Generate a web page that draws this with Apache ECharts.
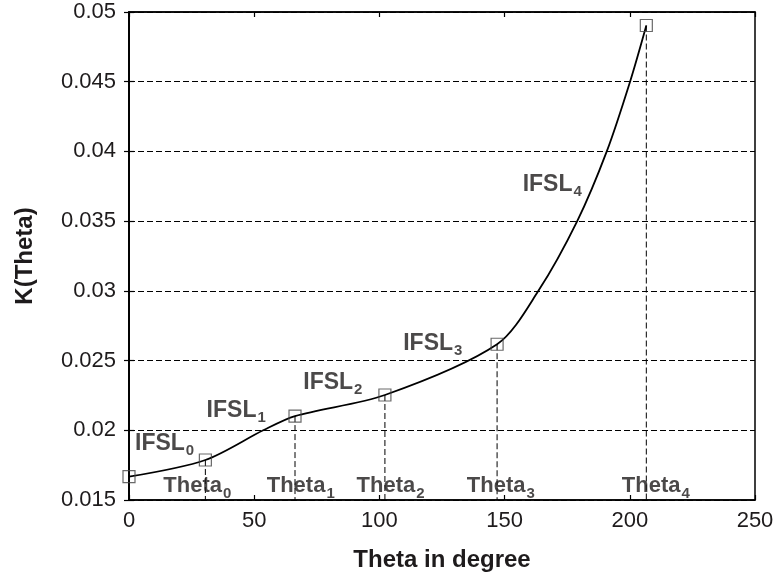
<!DOCTYPE html>
<html>
<head>
<meta charset="utf-8">
<script src="https://cdn.jsdelivr.net/npm/echarts@6/dist/echarts.min.js"></script>
<style>html,body{margin:0;padding:0;background:#fff}#c{width:779px;height:578px}</style>
</head>
<body>
<div id="c"></div>
<script>
// Main interpolation points (markers)
const thetaX = [0, 30.5, 66.3, 102.2, 147.0, 206.6];
const kValues = [0.01667, 0.01787, 0.02102, 0.02253, 0.02617, 0.04903];
// Points
const curveX = [0, 30.5, 53.6, 66.3, 102.2, 147.0, 163.5, 179.0, 190.8, 200.1, 206.6];
const curveY = [0.01667, 0.01787, 0.0200, 0.02102, 0.02253, 0.02617, 0.0300, 0.0350, 0.0400, 0.0450, 0.04903];
// Annotation labels
const ifslSubs = ['0', '1', '2', '3', '4'];
const ifslX = [2.4, 31.0, 69.6, 109.5, 157.2];
const ifslY = [0.01905, 0.02143, 0.02344, 0.02620, 0.03761];
const thetaSubs = ['0', '1', '2', '3', '4'];
const thetaLabelX = [13.7, 55.0, 90.9, 134.9, 196.8];
const thetaLabelY = [0.01600, 0.01600, 0.01600, 0.01600, 0.01600];
// Axes
const xMin = 0, xMax = 250, xStep = 50;
const yMin = 0.015, yMax = 0.05, yStep = 0.005;
const xTitle = 'Theta in degree';
const yTitle = 'K(Theta)';

const FONT = '"Liberation Sans", Arial, sans-serif';
const TXT = '#1e1b1c';

const chart = echarts.init(document.getElementById('c'), null, {renderer: 'canvas'});

const dashSeries = [];
for (let i = 1; i < thetaX.length; i++) {
  dashSeries.push({
    type: 'line', silent: true, symbol: 'none', z: 1,
    data: [[thetaX[i], kValues[i]], [thetaX[i], yMin]],
    lineStyle: {color: '#000', width: 1, type: [6, 3]}
  });
}

function richStyle(mainSize) {
  return {
    m: {fontSize: mainSize, fontWeight: 'bold', fontFamily: FONT, color: TXT},
    s: {fontSize: 15, fontWeight: 'bold', fontFamily: FONT, color: TXT, padding: [15, 0, 0, 1]}
  };
}

const option = {
  animation: false,
  backgroundColor: '#fff',
  grid: {left: 129, right: 24, top: 12, bottom: 78, show: true, borderColor: '#000', borderWidth: 1.5, backgroundColor: 'transparent'},
  xAxis: [{
    type: 'value', min: xMin, max: xMax, interval: xStep, position: 'bottom',
    name: xTitle, nameLocation: 'middle', nameGap: 48,
    nameTextStyle: {fontSize: 24, fontWeight: 'bold', fontFamily: FONT, color: TXT},
    axisLine: {show: true, onZero: false, lineStyle: {color: '#000', width: 1.5}},
    axisTick: {show: true, inside: true, length: 5, lineStyle: {color: '#000', width: 1.2}},
    axisLabel: {fontSize: 22, fontFamily: FONT, color: TXT, margin: 10},
    splitLine: {show: false}
  }, {
    type: 'value', min: xMin, max: xMax, interval: xStep, position: 'top',
    axisLine: {show: true, lineStyle: {color: '#000', width: 1.5}},
    axisTick: {show: true, inside: true, length: 5, lineStyle: {color: '#000', width: 1.2}},
    axisLabel: {show: false}, splitLine: {show: false}
  }],
  yAxis: [{
    type: 'value', min: yMin, max: yMax, interval: yStep, position: 'left',
    name: yTitle, nameLocation: 'middle', nameGap: 92, nameRotate: 90,
    nameTextStyle: {fontSize: 24, fontWeight: 'bold', fontFamily: FONT, color: TXT},
    axisLine: {show: true, onZero: false, lineStyle: {color: '#000', width: 1.5}},
    axisTick: {show: true, inside: true, length: 5, lineStyle: {color: '#000', width: 1.2}},
    axisLabel: {fontSize: 22, fontFamily: FONT, color: TXT, margin: 13,
      formatter: v => String(parseFloat(v.toFixed(4)))},
    splitLine: {show: true, lineStyle: {color: '#000', width: 1, type: [6, 3]}}
  }, {
    type: 'value', min: yMin, max: yMax, interval: yStep, position: 'right',
    axisLine: {show: true, lineStyle: {color: '#000', width: 1.5}},
    axisTick: {show: true, inside: true, length: 5, lineStyle: {color: '#000', width: 1.2}},
    axisLabel: {show: false}, splitLine: {show: false}
  }],
  series: [
    ...dashSeries,
    {
      type: 'line', name: 'K', symbol: 'none', smooth: 0.3, z: 3,
      data: curveX.map((x, i) => [x, curveY[i]]),
      lineStyle: {color: '#000', width: 1.8}
    },
    {
      type: 'scatter', name: 'nodes', symbol: 'rect', symbolSize: 12, z: 4,
      data: thetaX.map((x, i) => [x, kValues[i]]),
      itemStyle: {color: 'rgba(255,255,255,0)', borderColor: '#444', borderWidth: 1.2}
    },
    {
      type: 'scatter', name: 'ifsl', symbolSize: 0, z: 5, silent: true,
      data: ifslX.map((x, i) => ({value: [x, ifslY[i]], sub: ifslSubs[i]})),
      label: {show: true, position: [0, 0], align: 'left', verticalAlign: 'middle',
        formatter: p => '{m|IFSL}{s|' + p.data.sub + '}', rich: richStyle(23)}
    },
    {
      type: 'scatter', name: 'theta', symbolSize: 0, z: 5, silent: true,
      data: thetaLabelX.map((x, i) => ({value: [x, thetaLabelY[i]], sub: thetaSubs[i]})),
      label: {show: true, position: [0, 0], align: 'left', verticalAlign: 'middle',
        formatter: p => '{m|Theta}{s|' + p.data.sub + '}', rich: richStyle(22)}
    }
  ]
};
chart.setOption(option);
</script>
</body>
</html>
